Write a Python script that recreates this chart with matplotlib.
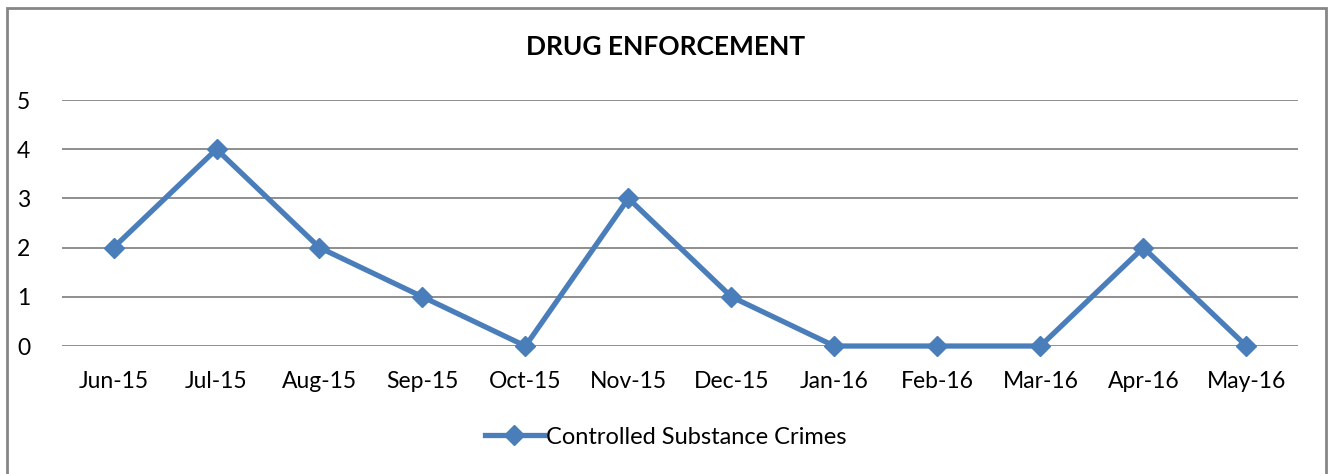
from matplotlib import pyplot as plt
from matplotlib.patches import Rectangle

months = ['Jun-15', 'Jul-15', 'Aug-15', 'Sep-15', 'Oct-15', 'Nov-15',
          'Dec-15', 'Jan-16', 'Feb-16', 'Mar-16', 'Apr-16', 'May-16']
crimes = [2, 4, 2, 1, 0, 3, 1, 0, 0, 0, 2, 0]

plt.rcParams['font.family'] = ['Lato', 'DejaVu Sans']

fig = plt.figure(figsize=(13.31, 4.74), dpi=100)
ax = fig.add_axes([0.0466, 0.270, 0.9285, 0.519])

line_color = '#4A7EBB'
ax.plot(range(len(months)), crimes, color=line_color, lw=3.8, marker='D',
        markersize=10.5, label='Controlled Substance Crimes', solid_joinstyle='miter')

ax.set_xlim(-0.5, len(months) - 0.5)
ax.set_ylim(0, 5)
ax.set_yticks(range(6))
ax.set_xticks(range(len(months)), months)
ax.yaxis.grid(True, color='#868686', lw=1.3)
ax.set_axisbelow(True)
for s in ax.spines.values():
    s.set_visible(False)
ax.tick_params(length=0, labelsize=16.5, colors='black')
ax.tick_params(axis='x', pad=18)
ax.tick_params(axis='y', pad=23)
for l in ax.lines:
    l.set_clip_on(False)

fig.text(0.5, 0.90, 'DRUG ENFORCEMENT', ha='center', va='center',
         fontsize=19, fontweight='bold')
fig.legend(loc='center', bbox_to_anchor=(0.5, 0.078), frameon=False,
           fontsize=17, handlelength=2.5, handletextpad=0.1)

# chart border (bottom edge falls outside the picture)
fig.patches.append(Rectangle((0.0053, -0.02), 0.9909, 1.003, transform=fig.transFigure,
                             fill=False, edgecolor='#868686', lw=2))

fig.savefig('out.png', dpi=100)
